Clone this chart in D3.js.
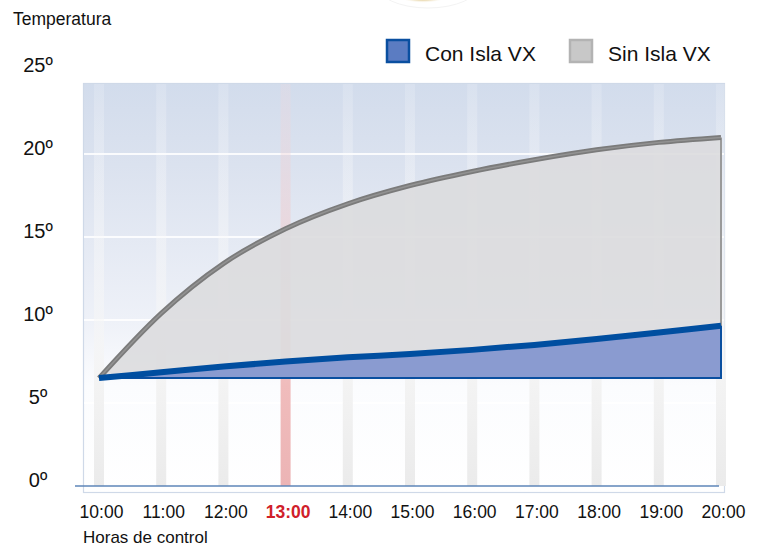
<!DOCTYPE html>
<html lang="es">
<head>
<meta charset="utf-8">
<title>Temperatura</title>
<script src="https://cdn.jsdelivr.net/npm/d3@7/dist/d3.min.js"></script>
<style>
  body { margin: 0; background: #fff; }
  svg { font-family: "Liberation Sans", Arial, Helvetica, sans-serif; }
</style>
</head>
<body>
<script>
// datos
var horas = ["10:00", "11:00", "12:00", "13:00", "14:00", "15:00", "16:00", "17:00", "18:00", "19:00", "20:00"];
var conIsla = [6.5, 6.85, 7.2, 7.5, 7.75, 7.95, 8.2, 8.5, 8.85, 9.25, 9.65];
var sinIsla = [6.5, 10.4, 13.4, 15.5, 17.0, 18.1, 18.95, 19.65, 20.25, 20.7, 21.0];
var yTicks = [0, 5, 10, 15, 20, 25];
var horaDestacada = "13:00";
var series = ["Con Isla VX", "Sin Isla VX"];

var w = 758, h = 547;
var base = conIsla[0];

var svg = d3.select("body").append("svg")
    .attr("width", w)
    .attr("height", h);

var xScale = d3.scalePoint().domain(horas).range([99, 721]);
var yScale = d3.scaleLinear().domain([0, 20]).range([486, 154]);

var defs = svg.append("defs");

var bg = defs.append("linearGradient").attr("id", "bg")
    .attr("gradientUnits", "userSpaceOnUse")
    .attr("x1", 0).attr("y1", 83).attr("x2", 0).attr("y2", 492);
bg.append("stop").attr("offset", 0).attr("stop-color", "#d2dcec");
bg.append("stop").attr("offset", 0.2).attr("stop-color", "#dbe2ef");
bg.append("stop").attr("offset", 0.58).attr("stop-color", "#eef1f8");
bg.append("stop").attr("offset", 0.74).attr("stop-color", "#fbfcfe");
bg.append("stop").attr("offset", 1).attr("stop-color", "#ffffff");

var band = defs.append("linearGradient").attr("id", "band")
    .attr("gradientUnits", "userSpaceOnUse")
    .attr("x1", 0).attr("y1", 83).attr("x2", 0).attr("y2", 486);
band.append("stop").attr("offset", 0).attr("stop-color", "#ffffff").attr("stop-opacity", 0.15);
band.append("stop").attr("offset", 0.6).attr("stop-color", "#f6f6f6").attr("stop-opacity", 0.55);
band.append("stop").attr("offset", 0.75).attr("stop-color", "#f3f3f3").attr("stop-opacity", 1);
band.append("stop").attr("offset", 1).attr("stop-color", "#ebebeb").attr("stop-opacity", 1);

var red = defs.append("linearGradient").attr("id", "red")
    .attr("gradientUnits", "userSpaceOnUse")
    .attr("x1", 0).attr("y1", 83).attr("x2", 0).attr("y2", 486);
red.append("stop").attr("offset", 0).attr("stop-color", "#f0d8dc").attr("stop-opacity", 0.25);
red.append("stop").attr("offset", 0.6).attr("stop-color", "#eebfc0").attr("stop-opacity", 0.7);
red.append("stop").attr("offset", 0.75).attr("stop-color", "#f0bcbc").attr("stop-opacity", 1);
red.append("stop").attr("offset", 1).attr("stop-color", "#ecb4b5").attr("stop-opacity", 1);

var gold = defs.append("radialGradient").attr("id", "gold");
gold.append("stop").attr("offset", 0).attr("stop-color", "#c9a24a");
gold.append("stop").attr("offset", 0.8).attr("stop-color", "#e6d2a0");
gold.append("stop").attr("offset", 1).attr("stop-color", "#ffffff").attr("stop-opacity", 0);

// logo cortado arriba
svg.append("ellipse").attr("cx", 423).attr("cy", -12).attr("rx", 34).attr("ry", 15)
    .attr("fill", "url(#gold)");
svg.append("ellipse").attr("cx", 428).attr("cy", -16).attr("rx", 52).attr("ry", 24)
    .attr("fill", "none").attr("stroke", "#f3f3f3").attr("stroke-width", 1);

// panel
svg.append("rect")
    .attr("x", 83.5).attr("y", 83.5).attr("width", 641).attr("height", 409)
    .attr("fill", "url(#bg)").attr("stroke", "#cfd9e8").attr("stroke-width", 1.2);

svg.selectAll(".grid")
    .data(yTicks.filter(function(d) { return d > 0 && d < 25; }))
    .enter().append("line")
    .attr("x1", 84).attr("x2", 724)
    .attr("y1", function(d) { return yScale(d); })
    .attr("y2", function(d) { return yScale(d); })
    .attr("stroke", "#ffffff").attr("stroke-opacity", 0.85).attr("stroke-width", 2);

svg.selectAll(".band")
    .data(horas)
    .enter().append("rect")
    .attr("x", function(d) { return xScale(d) - 5; })
    .attr("y", 84).attr("width", 10).attr("height", 402)
    .attr("fill", function(d) { return d === horaDestacada ? "url(#red)" : "url(#band)"; });

// areas
var areaSin = d3.area()
    .x(function(d, i) { return xScale(horas[i]); })
    .y0(function(d, i) { return yScale(conIsla[i]); })
    .y1(function(d) { return yScale(d); })
    .curve(d3.curveMonotoneX);

var areaCon = d3.area()
    .x(function(d, i) { return xScale(horas[i]); })
    .y0(yScale(base))
    .y1(function(d) { return yScale(d); })
    .curve(d3.curveMonotoneX);

var line = d3.line()
    .x(function(d, i) { return xScale(horas[i]); })
    .y(function(d) { return yScale(d); })
    .curve(d3.curveMonotoneX);

svg.append("path").datum(sinIsla)
    .attr("d", areaSin)
    .attr("fill", "#dcdcde").attr("fill-opacity", 0.9);

svg.append("path").datum(conIsla)
    .attr("d", areaCon)
    .attr("fill", "#8a9bd0")
    .attr("stroke", "#0a4fa0").attr("stroke-width", 2);

var last = horas.length - 1;
svg.append("line")
    .attr("x1", xScale(horas[last])).attr("x2", xScale(horas[last]))
    .attr("y1", yScale(sinIsla[last])).attr("y2", yScale(conIsla[last]))
    .attr("stroke", "#9a9a9a").attr("stroke-width", 2);

svg.append("path").datum(sinIsla)
    .attr("d", line)
    .attr("fill", "none").attr("stroke", "#7b7b7b").attr("stroke-width", 5);
svg.append("path").datum(sinIsla)
    .attr("d", line)
    .attr("fill", "none").attr("stroke", "#929292").attr("stroke-width", 1.5);

svg.append("path").datum(conIsla)
    .attr("d", line)
    .attr("fill", "none").attr("stroke", "#004ea0").attr("stroke-width", 6);

// eje inferior
svg.append("line")
    .attr("x1", 75).attr("x2", 719)
    .attr("y1", yScale(0)).attr("y2", yScale(0))
    .attr("stroke", "#5e86b9").attr("stroke-width", 1.3);

var xAxis = d3.axisBottom(xScale).tickSize(0).tickPadding(0);
var gx = svg.append("g")
    .attr("transform", "translate(2,503)")
    .call(xAxis);
gx.select(".domain").remove();
gx.selectAll("text")
    .attr("dy", "0.85em")
    .style("font-family", "'Liberation Sans', Arial, sans-serif")
    .style("font-size", "17.5px")
    .attr("fill", function(d) { return d === horaDestacada ? "#d0202a" : "#111"; })
    .style("font-weight", function(d) { return d === horaDestacada ? "bold" : "normal"; });

var yAxis = d3.axisLeft(yScale).tickValues(yTicks).tickSize(0).tickPadding(0)
    .tickFormat(function(d) { return d + "º"; });
var gy = svg.append("g")
    .attr("transform", "translate(38,-6)")
    .call(yAxis);
gy.select(".domain").remove();
gy.selectAll("text")
    .attr("x", 0)
    .attr("text-anchor", "middle")
    .style("font-family", "'Liberation Sans', Arial, sans-serif")
    .style("font-size", "20px")
    .attr("fill", "#111");

svg.append("text").attr("x", 13).attr("y", 25)
    .style("font-size", "17.5px").attr("fill", "#111")
    .text("Temperatura");

svg.append("text").attr("x", 83).attr("y", 543)
    .style("font-size", "17px").attr("fill", "#111")
    .text("Horas de control");

// leyenda
var legend = svg.append("g").attr("transform", "translate(386,39)");
var legX = [0, 183];
var legFill = ["#5b7cc2", "#c8c8c8"];
var legStroke = ["#0a4fa0", "#b3b3b3"];
var item = legend.selectAll(".item")
    .data(series)
    .enter().append("g")
    .attr("transform", function(d, i) { return "translate(" + legX[i] + ",0)"; });
item.append("rect")
    .attr("x", 1).attr("y", 1).attr("width", 22).attr("height", 22)
    .attr("fill", function(d, i) { return legFill[i]; })
    .attr("stroke", function(d, i) { return legStroke[i]; })
    .attr("stroke-width", 2.5);
item.append("text")
    .attr("x", 39).attr("y", 22)
    .style("font-size", "21px").attr("fill", "#111")
    .text(function(d) { return d; });
</script>
</body>
</html>
